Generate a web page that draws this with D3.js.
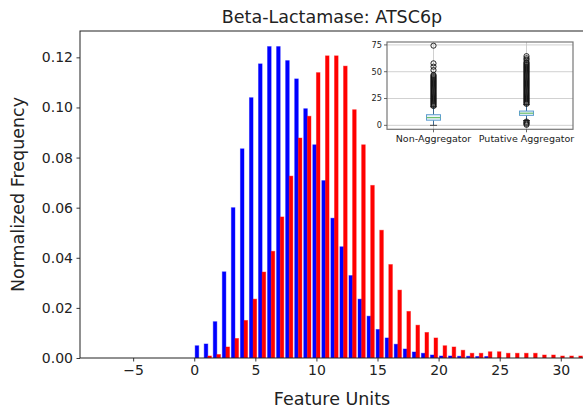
<!DOCTYPE html>
<html>
<head>
<meta charset="utf-8">
<script src="https://cdn.jsdelivr.net/npm/d3@7"></script>
<style>
  body { margin: 0; background: #fff; }
  text { font-family: "DejaVu Sans", sans-serif; fill: #222; }
</style>
</head>
<body>
<svg id="chart" width="583" height="414"></svg>
<script>
// ---- data -------------------------------------------------------------
const chartTitle = "Beta-Lactamase: ATSC6p";
const xLabel = "Feature Units";
const yLabel = "Normalized Frequency";

// histogram bins start at 0, each bin is binWidth feature units wide
const binWidth = 0.7406;
const nonAggregator = [
  0.0049, 0.0056, 0.0145, 0.0344, 0.0600, 0.0835, 0.1039, 0.1174, 0.1243, 0.1243,
  0.1187, 0.1114, 0.0995, 0.0851, 0.0708, 0.0558, 0.0444, 0.0329, 0.0235, 0.0167,
  0.0114, 0.0080, 0.0055, 0.0036, 0.0024, 0.0019, 0.0012, 0.0008, 0.0008, 0.0007,
  0.0007, 0.0006, 0.0006, 0, 0, 0, 0, 0, 0, 0, 0, 0, 0
];
const putativeAggregator = [
  0, 0.0008, 0.0014, 0.0044, 0.0078, 0.0150, 0.0235, 0.0343, 0.0426, 0.0563,
  0.0726, 0.0878, 0.0965, 0.1139, 0.1206, 0.1206, 0.1165, 0.0991, 0.0851, 0.0689,
  0.0510, 0.0373, 0.0271, 0.0186, 0.0131, 0.0102, 0.0080, 0.0049, 0.0044, 0.0031,
  0.0019, 0.0019, 0.0025, 0.0025, 0.0019, 0.0019, 0.0019, 0.0019, 0.0012, 0.0012,
  0.0008, 0.0008, 0.0008
];
const xTicks = [-5, 0, 5, 10, 15, 20, 25, 30];
const yTicks = [0, 0.02, 0.04, 0.06, 0.08, 0.10, 0.12];

// inset box plot
const boxGroups = ["Non-Aggregator", "Putative Aggregator"];
const boxQuartiles = [[4.8, 7.2, 9.9], [9.3, 11.3, 13.3]];
const boxWhiskers = [[0, 17.3], [4.5, 19.3]];
const boxFliers = [
  [18, 19, 20, 21, 22, 23, 24, 25, 26, 27, 28, 29, 30, 31, 32, 33, 34, 35, 36, 37,
   38, 39, 40, 41, 42, 43, 44, 45, 46, 47, 51.5, 54.7, 57.8, 74.3],
  [0.5, 1.5, 2.5, 3.5,
   20, 21, 22, 23, 24, 25, 26, 27, 28, 29, 30, 31, 32, 33, 34, 35, 36, 37, 38, 39,
   40, 41, 42, 43, 44, 45, 46, 47, 48, 49, 50, 51, 52, 53, 54, 55, 56, 57, 58, 59,
   61, 62.5, 64.5]
];
const insetTicks = [0, 25, 50, 75];

// ---- main histogram ----------------------------------------------------
const svg = d3.select("#chart");
const plot = { left: 80, top: 31, right: 584, bottom: 358 };

const x = d3.scaleLinear().domain([-9.35, 31.9]).range([plot.left, plot.right]);
const yMax = d3.max(nonAggregator.concat(putativeAggregator)) * 1.05;
const y = d3.scaleLinear().domain([0, yMax]).range([plot.bottom, plot.top]);

svg.append("clipPath").attr("id", "plotClip")
  .append("rect")
  .attr("x", plot.left).attr("y", plot.top)
  .attr("width", plot.right - plot.left).attr("height", plot.bottom - plot.top);

const bars = svg.append("g").attr("clip-path", "url(#plotClip)");
const series = [
  { values: nonAggregator, offset: 0.1, color: "#0000ff" },
  { values: putativeAggregator, offset: 0.5, color: "#ff0000" }
];
series.forEach(s => {
  bars.selectAll(null)
    .data(s.values.map((v, i) => ({ i, v })).filter(d => d.v > 0))
    .enter().append("rect")
    .attr("x", d => x(d.i * binWidth + s.offset * binWidth))
    .attr("width", x(0.4 * binWidth) - x(0))
    .attr("y", d => y(d.v))
    .attr("height", d => y(0) - y(d.v))
    .attr("fill", s.color)
    .attr("stroke", s.color)
    .attr("stroke-opacity", 0.45)
    .attr("stroke-width", 0.9);
});

// axes
const xAxis = svg.append("g")
  .attr("transform", `translate(0,${plot.bottom})`)
  .call(d3.axisBottom(x).tickValues(xTicks).tickSize(3.5).tickPadding(3.5).tickSizeOuter(0));
const yAxis = svg.append("g")
  .attr("transform", `translate(${plot.left},0)`)
  .call(d3.axisLeft(y).tickValues(yTicks).tickFormat(d3.format(".2f"))
    .tickSize(3.5).tickPadding(3.5).tickSizeOuter(0));
[xAxis, yAxis].forEach(g => {
  g.select(".domain").remove();
  g.selectAll(".tick line").attr("stroke", "#222").attr("stroke-width", 0.9);
  g.selectAll(".tick text").attr("font-size", 14).attr("fill", "#222")
    .style("font-family", "'DejaVu Sans', sans-serif");
});

svg.append("rect")
  .attr("x", plot.left).attr("y", plot.top)
  .attr("width", plot.right - plot.left).attr("height", plot.bottom - plot.top)
  .attr("fill", "none").attr("stroke", "#222").attr("stroke-width", 1);

svg.append("text")
  .attr("x", (plot.left + plot.right) / 2).attr("y", 23)
  .attr("text-anchor", "middle").attr("font-size", 17.5)
  .text(chartTitle);
svg.append("text")
  .attr("x", (plot.left + plot.right) / 2).attr("y", 405)
  .attr("text-anchor", "middle").attr("font-size", 17.5)
  .text(xLabel);
svg.append("text")
  .attr("transform", `translate(24,${(plot.top + plot.bottom) / 2}) rotate(-90)`)
  .attr("text-anchor", "middle").attr("font-size", 17.5)
  .text(yLabel);

// ---- inset box plot ----------------------------------------------------
const inset = { left: 387, top: 42, right: 573, bottom: 129.3 };
const xi = d3.scaleLinear().domain([0.5, 2.5]).range([inset.left, inset.right]);
const yi = d3.scaleLinear().domain([-3.7, 77.7]).range([inset.bottom, inset.top]);
const gi = svg.append("g");

gi.append("rect")
  .attr("x", inset.left).attr("y", inset.top)
  .attr("width", inset.right - inset.left).attr("height", inset.bottom - inset.top)
  .attr("fill", "#fff");

// grid
gi.selectAll(null).data(insetTicks).enter().append("line")
  .attr("x1", inset.left).attr("x2", inset.right)
  .attr("y1", d => yi(d)).attr("y2", d => yi(d))
  .attr("stroke", "#c4c4c4").attr("stroke-width", 0.8);
gi.selectAll(null).data(boxGroups).enter().append("line")
  .attr("x1", (d, i) => xi(i + 1)).attr("x2", (d, i) => xi(i + 1))
  .attr("y1", inset.top).attr("y2", inset.bottom)
  .attr("stroke", "#c4c4c4").attr("stroke-width", 0.8);

const boxHalf = (xi(1.075) - xi(1));
boxGroups.forEach((name, i) => {
  const cx = xi(i + 1);
  const [q1, med, q3] = boxQuartiles[i];
  const [wLo, wHi] = boxWhiskers[i];
  // whiskers
  gi.append("line").attr("x1", cx).attr("x2", cx).attr("y1", yi(q1)).attr("y2", yi(wLo))
    .attr("stroke", "#2a5d8a").attr("stroke-width", 0.9);
  gi.append("line").attr("x1", cx).attr("x2", cx).attr("y1", yi(q3)).attr("y2", yi(wHi))
    .attr("stroke", "#2a5d8a").attr("stroke-width", 0.9);
  // caps
  [wLo, wHi].forEach(v => {
    gi.append("line").attr("x1", cx - boxHalf / 2).attr("x2", cx + boxHalf / 2)
      .attr("y1", yi(v)).attr("y2", yi(v))
      .attr("stroke", "#333").attr("stroke-width", 0.9);
  });
  // box
  gi.append("rect")
    .attr("x", cx - boxHalf).attr("width", 2 * boxHalf)
    .attr("y", yi(q3)).attr("height", yi(q1) - yi(q3))
    .attr("fill", "#eef5fb").attr("stroke", "#5b9bd0").attr("stroke-width", 1);
  gi.append("line").attr("x1", cx - boxHalf).attr("x2", cx + boxHalf)
    .attr("y1", yi(med)).attr("y2", yi(med))
    .attr("stroke", "#6cc06c").attr("stroke-width", 1.2);
  // fliers
  gi.selectAll(null).data(boxFliers[i]).enter().append("circle")
    .attr("cx", cx).attr("cy", d => yi(d)).attr("r", 2.6)
    .attr("fill", "none").attr("stroke", "#111").attr("stroke-width", 0.9);
});

// inset frame and ticks
gi.append("rect")
  .attr("x", inset.left).attr("y", inset.top)
  .attr("width", inset.right - inset.left).attr("height", inset.bottom - inset.top)
  .attr("fill", "none").attr("stroke", "#777").attr("stroke-width", 1.2);

gi.selectAll(null).data(insetTicks).enter().append("line")
  .attr("x1", inset.left - 3).attr("x2", inset.left)
  .attr("y1", d => yi(d)).attr("y2", d => yi(d))
  .attr("stroke", "#444").attr("stroke-width", 0.8);
gi.selectAll(null).data(insetTicks).enter().append("text")
  .attr("x", inset.left - 5).attr("y", d => yi(d)).attr("dy", "0.35em")
  .attr("text-anchor", "end").attr("font-size", 8.2)
  .text(d => d);
gi.selectAll(null).data(boxGroups).enter().append("line")
  .attr("x1", (d, i) => xi(i + 1)).attr("x2", (d, i) => xi(i + 1))
  .attr("y1", inset.bottom).attr("y2", inset.bottom + 3)
  .attr("stroke", "#444").attr("stroke-width", 0.8);
gi.selectAll(null).data(boxGroups).enter().append("text")
  .attr("x", (d, i) => xi(i + 1)).attr("y", 142)
  .attr("text-anchor", "middle").attr("font-size", 9.5)
  .text(d => d);
</script>
</body>
</html>
